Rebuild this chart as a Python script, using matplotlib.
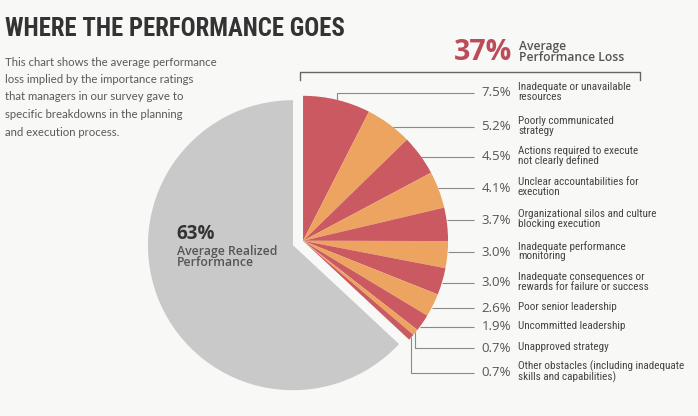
import numpy as np
import matplotlib
matplotlib.use("Agg")
import matplotlib.pyplot as plt

W, H = 698, 416

# data
loss_pct = [7.5, 5.2, 4.5, 4.1, 3.7, 3.0, 3.0, 2.6, 1.9, 0.7, 0.7]
loss_labels = ["Inadequate or unavailable\nresources",
               "Poorly communicated\nstrategy",
               "Actions required to execute\nnot clearly defined",
               "Unclear accountabilities for\nexecution",
               "Organizational silos and culture\nblocking execution",
               "Inadequate performance\nmonitoring",
               "Inadequate consequences or\nrewards for failure or success",
               "Poor senior leadership",
               "Uncommitted leadership",
               "Unapproved strategy",
               "Other obstacles (including inadequate\nskills and capabilities)"]
realized_pct = 63
label_y_px = [93, 127, 157, 188, 220, 252, 283, 308, 327, 348, 373]

red, orange, grey = "#cb5961", "#eda460", "#c9c9c9"
bg = "#f8f8f6"
narrow = ["Roboto Condensed", "Liberation Sans Narrow", "Roboto", "DejaVu Sans"]

def Y(y):
    return H - y

fig = plt.figure(figsize=(W / 100, H / 100), dpi=100, facecolor=bg)
ax = fig.add_axes([0, 0, 1, 1])
ax.set_facecolor(bg)

vals = loss_pct + [realized_pct]
total = sum(vals)
loss_frac = sum(loss_pct) / total
mid = np.radians(90 - 360 * loss_frac / 2)
base = np.array([298.0, Y(243)])
d = 5.5
c_red = base + d * np.array([np.cos(mid), np.sin(mid)])
c_grey = base - d * np.array([np.cos(mid), np.sin(mid)])
r = 145

red_cols = [red if i % 2 == 0 else orange for i in range(len(loss_pct))] + ["none"]
grey_cols = ["none"] * len(loss_pct) + [grey]
wedges, _ = ax.pie(vals, colors=red_cols, startangle=90, counterclock=False,
                   radius=r, center=tuple(c_red), wedgeprops=dict(linewidth=0))
ax.pie(vals, colors=grey_cols, startangle=90, counterclock=False,
       radius=r, center=tuple(c_grey), wedgeprops=dict(linewidth=0))

ax.set_aspect("auto")
ax.set_xlim(0, W)
ax.set_ylim(0, H)
ax.axis("off")

# leader lines and labels
line_c = "#8a8a8a"
x_end = 474
for i, (p, lab, ly) in enumerate(zip(loss_pct, loss_labels, label_y_px)):
    w = wedges[i]
    t1, t2 = max(w.theta1, w.theta2), min(w.theta1, w.theta2)
    yd = Y(ly)
    dy = yd - c_red[1]
    a = np.degrees(np.arcsin(dy / r)) if abs(dy) < r else None
    if a is not None and t2 <= a <= t1:
        xs = [c_red[0] + np.sqrt(r ** 2 - dy ** 2), x_end]
        ys = [yd, yd]
    else:
        tm = np.radians((t1 + t2) / 2)
        px = c_red[0] + r * np.cos(tm)
        py = c_red[1] + r * np.sin(tm)
        xs = [px, px, x_end]
        ys = [py, yd, yd]
    ax.plot(xs, ys, color=line_c, lw=0.8, solid_capstyle="butt")
    ax.text(511, yd, f"{p:.1f}%", ha="right", va="center", fontsize=9.5,
            color="#555555", family="Open Sans")
    ax.text(518, yd + 1, lab, ha="left", va="center", fontsize=8.0,
            color="#444444", family=narrow, linespacing=0.92)

# bracket over the loss wedges
ax.plot([300, 300, 640, 640], [Y(80), Y(72), Y(72), Y(80)], color="#666666", lw=1.0)

# headline texts
ax.text(5, Y(29), "WHERE THE PERFORMANCE GOES", ha="left", va="center",
        fontsize=17.8, fontweight="bold", color="#333333", family=narrow)
desc = ["This chart shows the average performance",
        "loss implied by the importance ratings",
        "that managers in our survey gave to",
        "specific breakdowns in the planning",
        "and execution process."]
for k, line in enumerate(desc):
    ax.text(5, Y(62 + 17.5 * k), line, ha="left", va="center", fontsize=8.2,
            color="#5a5a5a", family="Lato")

ax.text(512, Y(53), "37%", ha="right", va="center", fontsize=20.5,
        fontweight="bold", color="#bc4c5a", family="Open Sans")
ax.text(519, Y(52), "Average\nPerformance Loss", ha="left", va="center",
        fontsize=8.7, fontweight="semibold", color="#555555", family="Open Sans",
        linespacing=0.85)

ax.text(176, Y(234), f"{realized_pct}%", ha="left", va="center", fontsize=13.5,
        fontweight="bold", color="#333333", family="Open Sans")
ax.text(177, Y(257), "Average Realized\nPerformance", ha="left", va="center",
        fontsize=8.8, fontweight="semibold", color="#555555", family="Open Sans",
        linespacing=0.82)

fig.savefig("out.png", dpi=100, facecolor=bg)
